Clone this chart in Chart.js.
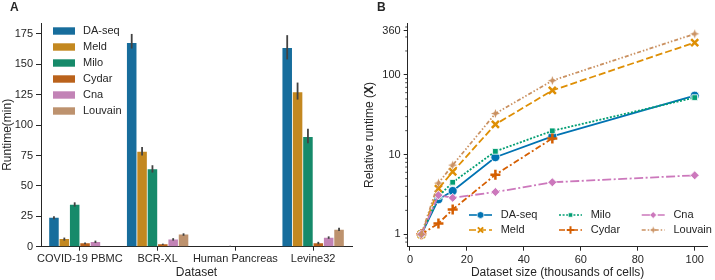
<!DOCTYPE html>
<html>
<head>
<meta charset="utf-8">
<script src="https://cdn.jsdelivr.net/npm/chart.js@4.4.0/dist/chart.umd.min.js"></script>
<style>
    body { margin: 0; background: #fff; }
    #wrapA { position: absolute; left: 0; top: 0; width: 360px; height: 280px; }
    #wrapB { position: absolute; left: 360px; top: 0; width: 355px; height: 280px; }
</style>
</head>
<body>
<div id="wrapA"><canvas id="runtimeChart"></canvas></div>
<div id="wrapB"><canvas id="scalingChart"></canvas></div>
<script>
// ---- panel A: runtime per dataset ----
const datasetNames = ['COVID-19 PBMC', 'BCR-XL', 'Human Pancreas', 'Levine32'];
const methods = ['DA-seq', 'Meld', 'Milo', 'Cydar', 'Cna', 'Louvain'];

const runtimeDaseq   = [23.8, 167.5, null, 163.4];
const runtimeMeld    = [6.3, 78, null, 127];
const runtimeMilo    = [34.5, 63.8, 0.4, 90.3];
const runtimeCydar   = [2.8, 2.0, null, 2.8];
const runtimeCna     = [3.9, 6.0, null, 7.4];
const runtimeLouvain = [null, 10.0, null, 14.0];

// error bar [low, high] per dataset
const errDaseq   = [[22.5, 25], [163, 175], null, [154, 174]];
const errMeld    = [[5, 7.5], [75, 82], null, [121, 135]];
const errMilo    = [[33, 36.5], [61, 67], [0, 0.8], [85, 97]];
const errCydar   = [[2, 3.5], [1.5, 2.5], null, [2, 4]];
const errCna     = [[3, 5], [5, 7], null, [6.5, 8.5]];
const errLouvain = [null, [9, 11], null, [13, 15.5]];

const yTicksA = [0, 25, 50, 75, 100, 125, 150, 175];

// ---- panel B: relative runtime vs dataset size ----
const cellCounts  = [4, 10, 15, 30, 50, 100];
const relDaseq    = [1, 2.75, 3.5, 9.3, 17, 55];
const relMeld     = [1, 3.75, 6.1, 24, 64, 255];
const relMilo     = [1, 3.0, 4.5, 11, 19.9, 52];
const relCydar    = [1, 1.37, 2.05, 5.6, 16, null];
const relCna      = [1, 3.1, 2.87, 3.4, 4.5, 5.5];
const relLouvain  = [1, 4.4, 7.4, 32.8, 85, 328];

const xTicksB = [0, 20, 40, 60, 80, 100];
const yTicksB = [1, 10, 100, 360];
const yMinorB = [0.8, 0.9, 2, 3, 4, 5, 6, 7, 8, 9, 20, 30, 40, 50, 60, 70, 80, 90, 200, 300, 400];

const barColors  = ['#176d9c', '#c38820', '#168a6a', '#ba621b', '#c283b6', '#bd926e'];
const lineColors = ['#0173b2', '#de8f05', '#029e73', '#d55e00', '#cc78bc', '#ca9161'];
const lineDashes = [[], [7, 3], [2, 1.6], [6, 2.5, 2, 2.5], [9, 2.5, 2, 2.5], [4, 2, 1.5, 2, 1.5, 2]];
const pointRadii = [4.5, 5, 4, 5, 4.5, 4.5];

const FONT = "'Liberation Sans', Arial, sans-serif";
const INK = '#262626';

Chart.defaults.font.family = FONT;
Chart.defaults.font.size = 11;
Chart.defaults.color = INK;
Chart.defaults.animation = false;

// seaborn's 4-pointed star marker
function makeStar4(color, r) {
    const c = document.createElement('canvas');
    const s = Math.ceil(r * 2 + 2);
    c.width = s; c.height = s;
    const g = c.getContext('2d');
    const m = s / 2;
    g.fillStyle = color;
    g.beginPath();
    for (let k = 0; k < 8; k++) {
        const a = k * Math.PI / 4 - Math.PI / 2;
        const rr = k % 2 === 0 ? r : r * 0.38;
        g.lineTo(m + rr * Math.cos(a), m + rr * Math.sin(a));
    }
    g.closePath();
    g.fill();
    return c;
}

const pointStyles = ['circle', 'crossRot', 'rect', 'cross', 'rectRot', makeStar4(lineColors[5], 4.5)];
const legendStyles = ['circle', 'crossRot', 'rect', 'cross', 'rectRot', makeStar4(lineColors[5], 3.5)];
const filledStyle = [true, false, true, false, true, true];

const runtimeSeries = [runtimeDaseq, runtimeMeld, runtimeMilo, runtimeCydar, runtimeCna, runtimeLouvain];
const errSeries = [errDaseq, errMeld, errMilo, errCydar, errCna, errLouvain];
const relSeries = [relDaseq, relMeld, relMilo, relCydar, relCna, relLouvain];

const errorBarPlugin = {
    id: 'errorBars',
    afterDatasetsDraw(chart) {
        const ctx = chart.ctx;
        const y = chart.scales.y;
        ctx.save();
        ctx.strokeStyle = '#424242';
        ctx.lineWidth = 1.8;
        chart.data.datasets.forEach((ds, i) => {
            const meta = chart.getDatasetMeta(i);
            (ds.errorBars || []).forEach((e, j) => {
                if (!e) return;
                const bar = meta.data[j];
                ctx.beginPath();
                ctx.moveTo(bar.x, y.getPixelForValue(e[0]));
                ctx.lineTo(bar.x, y.getPixelForValue(e[1]));
                ctx.stroke();
            });
        });
        ctx.restore();
    }
};

const legendAPlugin = {
    id: 'legendA',
    afterDraw(chart) {
        const ctx = chart.ctx;
        ctx.save();
        ctx.textBaseline = 'middle';
        ctx.textAlign = 'left';
        methods.forEach((m, i) => {
            const yy = 31 + i * 16;
            ctx.fillStyle = barColors[i];
            ctx.fillRect(53, yy - 3.7, 22, 7.4);
            ctx.fillStyle = INK;
            ctx.font = '11px ' + FONT;
            ctx.fillText(m, 83, yy);
        });
        ctx.font = 'bold 12px ' + FONT;
        ctx.fillText('A', 10, 8);
        ctx.restore();
    }
};

const decorBPlugin = {
    id: 'decorB',
    afterDraw(chart) {
        const ctx = chart.ctx;
        const y = chart.scales.y;
        const left = chart.chartArea.left;
        ctx.save();
        // minor log ticks
        ctx.strokeStyle = INK;
        ctx.lineWidth = 0.8;
        yMinorB.forEach(v => {
            const py = y.getPixelForValue(v);
            if (py < chart.chartArea.top || py > chart.chartArea.bottom) return;
            ctx.beginPath();
            ctx.moveTo(left - 2.5, py);
            ctx.lineTo(left, py);
            ctx.stroke();
        });

        // y title with bold X
        const parts = [['Relative runtime (', '12px '], ['X', 'bold 12px '], [')', '12px ']];
        let total = 0;
        parts.forEach(p => { ctx.font = p[1] + FONT; total += ctx.measureText(p[0]).width; });
        ctx.translate(10, (chart.chartArea.top + chart.chartArea.bottom) / 2);
        ctx.rotate(-Math.PI / 2);
        ctx.textBaseline = 'middle';
        ctx.textAlign = 'left';
        ctx.fillStyle = INK;
        let cx = -total / 2;
        parts.forEach(p => {
            ctx.font = p[1] + FONT;
            ctx.fillText(p[0], cx, 0);
            cx += ctx.measureText(p[0]).width;
        });
        ctx.setTransform(1, 0, 0, 1, 0, 0);

        // legend, 3 columns x 2 rows
        const colX = [109, 199, 281.7];
        const rowY = [215, 230];
        ctx.textBaseline = 'middle';
        methods.forEach((m, i) => {
            const hx = colX[Math.floor(i / 2)];
            const hy = rowY[i % 2];
            ctx.strokeStyle = lineColors[i];
            ctx.lineWidth = 1.6;
            ctx.setLineDash(lineDashes[i]);
            ctx.beginPath();
            ctx.moveTo(hx, hy);
            ctx.lineTo(hx + 23, hy);
            ctx.stroke();
            ctx.setLineDash([]);
            const filled = filledStyle[i];
            ctx.fillStyle = lineColors[i];
            ctx.strokeStyle = filled ? '#fff' : lineColors[i];
            ctx.lineWidth = filled ? 0.6 : 2;
            Chart.helpers.drawPoint(ctx, {
                pointStyle: legendStyles[i], radius: pointRadii[i] * 0.75, rotation: 0,
                borderWidth: filled ? 0.6 : 2
            }, hx + 11.5, hy);
            ctx.fillStyle = INK;
            ctx.font = '11px ' + FONT;
            ctx.fillText(m, hx + 31.7, hy);
        });

        ctx.font = 'bold 12px ' + FONT;
        ctx.fillStyle = INK;
        ctx.fillText('B', 17, 8);
        ctx.restore();
    }
};

new Chart(document.getElementById('runtimeChart').getContext('2d'), {
    type: 'bar',
    data: {
        labels: datasetNames,
        datasets: methods.map((m, i) => ({
            label: m,
            data: runtimeSeries[i],
            errorBars: errSeries[i],
            backgroundColor: barColors[i],
            borderWidth: 0,
            categoryPercentage: 0.8,
            barPercentage: 0.92
        }))
    },
    options: {
        responsive: true,
        maintainAspectRatio: false,
        layout: { padding: { top: 23, right: 8, left: 0, bottom: 0 } },
        plugins: { legend: { display: false }, tooltip: { enabled: false } },
        scales: {
            x: {
                offset: true,
                grid: { offset: false, drawOnChartArea: false, drawTicks: true, tickLength: 4, color: INK },
                border: { color: INK, width: 1 },
                ticks: { maxRotation: 0, autoSkip: false, padding: 2, color: INK },
                title: { display: true, text: 'Dataset', font: { size: 12 }, padding: { top: 0, bottom: 0 }, color: INK },
                afterFit: s => { s.height = 33.3; }
            },
            y: {
                min: 0,
                max: 184,
                afterBuildTicks: s => { s.ticks = yTicksA.map(v => ({ value: v })); },
                grid: { drawOnChartArea: false, drawTicks: true, tickLength: 5, color: INK },
                border: { color: INK, width: 1 },
                ticks: { padding: 3, color: INK },
                title: { display: true, text: 'Runtime(min)', font: { size: 12 }, padding: { top: 0, bottom: 0 }, color: INK },
                afterFit: s => { s.width = 41; }
            }
        }
    },
    plugins: [errorBarPlugin, legendAPlugin]
});

new Chart(document.getElementById('scalingChart').getContext('2d'), {
    type: 'line',
    data: {
        datasets: methods.map((m, i) => {
            const filled = filledStyle[i];
            return {
                label: m,
                data: cellCounts.map((x, k) => ({ x: x, y: relSeries[i][k] })).filter(p => p.y !== null),
                borderColor: lineColors[i],
                borderWidth: 1.8,
                borderDash: lineDashes[i],
                pointStyle: pointStyles[i],
                pointRadius: pointRadii[i],
                pointBackgroundColor: lineColors[i],
                pointBorderColor: filled ? '#fff' : lineColors[i],
                pointBorderWidth: filled ? 0.8 : 2.5,
                fill: false,
                tension: 0,
                order: methods.length - i
            };
        })
    },
    options: {
        responsive: true,
        maintainAspectRatio: false,
        layout: { padding: { top: 23.3, right: 2, left: 0, bottom: 0 } },
        plugins: { legend: { display: false }, tooltip: { enabled: false } },
        scales: {
            x: {
                type: 'linear',
                min: -0.8,
                max: 104.5,
                afterBuildTicks: s => { s.ticks = xTicksB.map(v => ({ value: v })); },
                grid: { drawOnChartArea: false, drawTicks: true, tickLength: 4, color: INK },
                border: { color: INK, width: 1 },
                ticks: { padding: 3, color: INK },
                title: { display: true, text: 'Dataset size (thousands of cells)', font: { size: 12 }, padding: { top: 0, bottom: 0 }, color: INK },
                afterFit: s => { s.height = 33.3; }
            },
            y: {
                type: 'logarithmic',
                min: 0.736,
                max: 445,
                afterBuildTicks: s => { s.ticks = yTicksB.map(v => ({ value: v })); },
                grid: { drawOnChartArea: false, drawTicks: true, tickLength: 4, color: INK },
                border: { color: INK, width: 1 },
                ticks: { padding: 3, color: INK, callback: v => String(v) },
                title: { display: false },
                afterFit: s => { s.width = 47.7; }
            }
        }
    },
    plugins: [decorBPlugin]
});
</script>
</body>
</html>
